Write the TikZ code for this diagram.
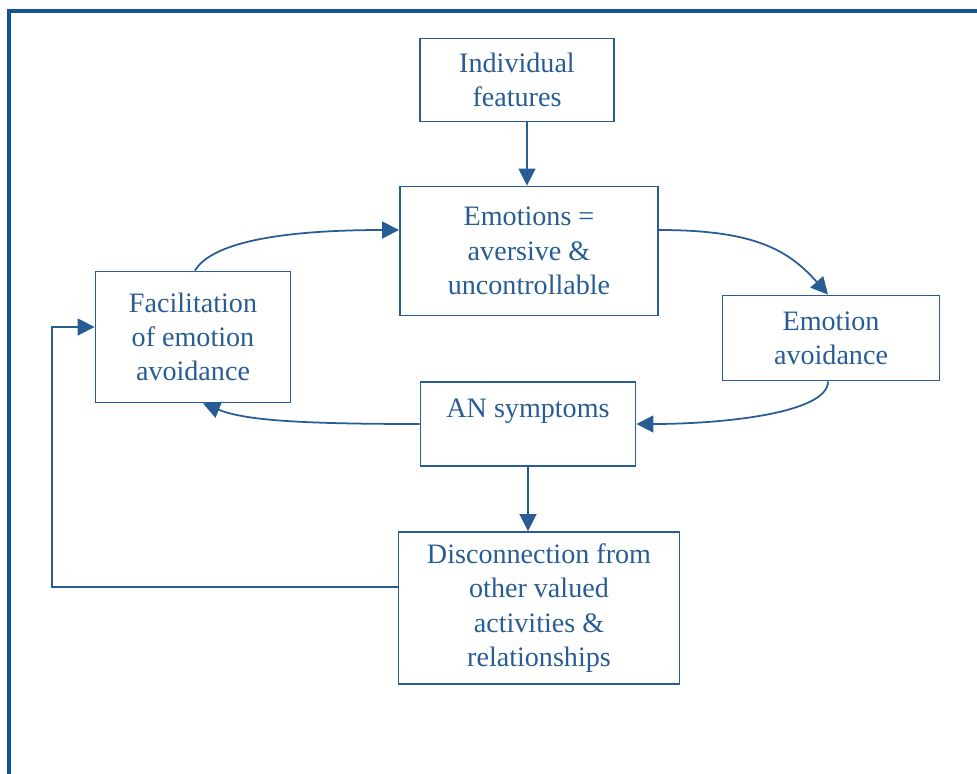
\documentclass[tikz,border=0pt]{standalone}
\usepackage{fontspec}
\setmainfont{Liberation Serif}
\usetikzlibrary{arrows.meta}
\definecolor{boxblue}{RGB}{40,92,148}
\definecolor{frameblue}{RGB}{18,84,150}
\tikzset{
  box/.style={draw=boxblue,text=boxblue,line width=1.1pt,align=center,inner sep=0pt,
    font=\fontsize{16}{19.5}\selectfont},
  link/.style={draw=boxblue,line width=1pt,-{Triangle[length=0.34cm,width=0.34cm]}}
}
\begin{document}
\begin{tikzpicture}[x=0.02cm,y=-0.02cm]
                        \useasboundingbox (0,0) rectangle (977,774);
                        \draw[frameblue,line width=2pt] (980,11) -- (9,11) -- (9,780);
                        \node[box,minimum width=3.88cm,minimum height=1.66cm] (ind) at (517,80) {Individual\\features};
                        \node[box,minimum width=5.16cm,minimum height=2.58cm] (emo) at (529,251) {Emotions =\\aversive \&\\uncontrollable};
                        \node[box,minimum width=3.9cm,minimum height=2.62cm] (fac) at (193,337) {Facilitation\\of emotion\\avoidance};
                        \node[box,minimum width=4.34cm,minimum height=1.7cm] (avoid) at (831,338) {Emotion\\avoidance};
                        \node[box,minimum width=4.3cm,minimum height=1.68cm,text depth=0.62cm] (an) at (528,424) {AN symptoms};
                        \node[box,minimum width=5.62cm,minimum height=3.04cm] (disc) at (539,608) {Disconnection from\\other valued\\activities \&\\relationships};
                        \coordinate (back) at (52,587);
                        \draw[link] ([xshift=0.2cm]ind.south) -- ([xshift=0.2cm]ind.south |- emo.north);
                        \draw[link] ([xshift=0.04cm]fac.north) .. controls +(18,-30) and +(-110,0) .. ([yshift=0.42cm]emo.west);
                        \draw[link] ([yshift=0.42cm]emo.east) .. controls +(95,0) and +(-40,-45) .. ([xshift=-0.06cm]avoid.north);
                        \draw[link] ([xshift=-0.06cm]avoid.south) .. controls +(0,32) and +(85,0) .. (an.east);
                        \draw[link] (an.west) .. controls +(-130,0) and +(40,16) .. ([xshift=0.2cm]fac.south);
                        \draw[link] (an.south) -- (an.south |- disc.north);
                        \draw[link] (disc.west |- back) -- (back) |- ([yshift=0.2cm]fac.west);
                     \end{tikzpicture}
\end{document}
